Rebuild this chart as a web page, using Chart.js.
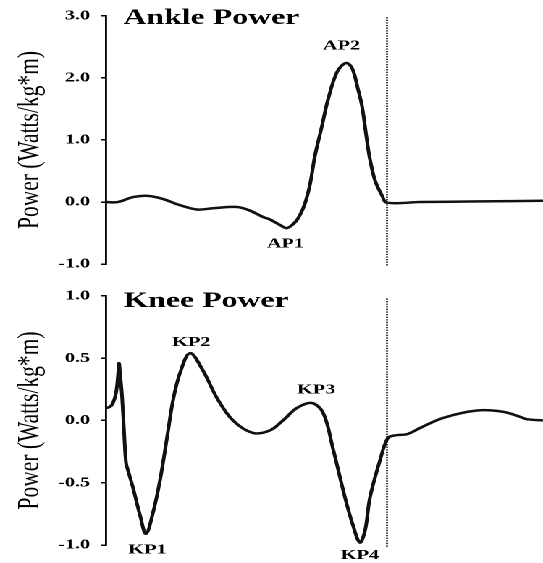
<!DOCTYPE html>
<html>
<head>
<meta charset="utf-8">
<script src="https://cdn.jsdelivr.net/npm/chart.js@4/dist/chart.umd.min.js"></script>
<style>
  html, body { margin: 0; background: #fff; }
  /* plots are laid out narrow, then widened to the page */
  #wrap { position: absolute; left: 0; top: 0; width: 375px; transform: scaleX(1.448); transform-origin: 0 0; }
  canvas { display: block; }
</style>
</head>
<body>
<div id="wrap">
  <canvas id="ankle" width="375" height="280" style="width:375px;height:280px"></canvas>
  <canvas id="knee" width="375" height="283" style="width:375px;height:283px"></canvas>
</div>
<script>
// % of gait cycle and joint power (W/kg*m)
const ankleCycle = [0, 2.7, 6.2, 9.6, 13.0, 16.9, 20.8, 24.5, 30.0, 33.0, 35.9, 37.5, 39.8, 41.4, 43.2, 44.3, 45.5,
  46.7, 47.8, 49.4, 50.8, 52.9, 54.9, 56.3, 57.7, 58.6, 59.7, 60.4, 61.6, 63.2, 64.3, 71.9, 85.6, 100]
const anklePower = [0, 0, 0.08, 0.1, 0.05, -0.05, -0.12, -0.1, -0.08, -0.14, -0.24, -0.28, -0.37, -0.42, -0.33, -0.22, -0.03,
  0.29, 0.74, 1.22, 1.65, 2.1, 2.24, 2.16, 1.81, 1.54, 1.0, 0.69, 0.34, 0.1, -0.01, 0.0, 0.01, 0.02]

const kneeCycle = [0, 0.92, 1.6, 2.29, 2.75, 2.97, 3.2, 3.66, 4.12, 4.58, 5.03, 6.18, 7.78, 9.15, 10.76, 12.36,
  13.96, 15.33, 16.93, 19.22, 22.2, 25.4, 29.06, 33.6, 37.5, 40.5, 43.7, 47.1, 49.7, 51.9, 54.7, 56.5, 58.1,
  59.3, 60.4, 62.7, 64.5, 66.1, 68.9, 71.9, 77.1, 84.9, 90.8, 94.7, 96.3, 100]
const kneePower = [0.10, 0.11, 0.14, 0.22, 0.36, 0.46, 0.38, 0.2, -0.08, -0.34, -0.40, -0.54, -0.76, -0.91, -0.74, -0.48,
  -0.14, 0.16, 0.38, 0.54, 0.40, 0.18, 0.0, -0.10, -0.08, 0.0, 0.10, 0.14, 0.06, -0.22, -0.62, -0.84, -0.98,
  -0.88, -0.62, -0.32, -0.14, -0.12, -0.11, -0.06, 0.02, 0.08, 0.07, 0.03, 0.01, 0.0]

const toeOff = 64.3
const ankleToeOffSpan = [2.98, -1.04]
const kneeToeOffSpan = [0.98, -1.02]

const ankleTicks = [3, 2, 1, 0, -1]
const kneeTicks = [1, 0.5, 0, -0.5, -1]

const ankleMarkers = ['AP1', 'AP2']
const ankleMarkerAt = [41.4, 54.9]
const kneeMarkers = ['KP1', 'KP2', 'KP3', 'KP4']
const kneeMarkerAt = [9.15, 19.22, 47.1, 58.1]

const SERIF = '"Liberation Serif", "Times New Roman", serif'
// label nudge from its peak, [dx, dy]
const markerOffset = {
  AP1: [-1, 16], AP2: [-3, -17],
  KP1: [1, 16], KP2: [1, -11], KP3: [3, -13], KP4: [0, 13]
}

function annotate (title, titleDrop, cycle, markers, markerAt) {
  return {
    id: 'annotate',
    afterDatasetsDraw (chart) {
      const { ctx, chartArea } = chart
      ctx.save()
      ctx.fillStyle = '#000'
      ctx.font = 'bold 22px ' + SERIF
      ctx.textAlign = 'left'
      ctx.textBaseline = 'alphabetic'
      ctx.fillText(title, chartArea.left + 12, chartArea.top + titleDrop)

      ctx.font = 'bold 14px ' + SERIF
      ctx.textAlign = 'center'
      ctx.textBaseline = 'middle'
      const pts = chart.getDatasetMeta(0).data
      markers.forEach((name, i) => {
        let idx = 0
        cycle.forEach((c, j) => {
          if (Math.abs(c - markerAt[i]) < Math.abs(cycle[idx] - markerAt[i])) idx = j
        })
        const [dx, dy] = markerOffset[name]
        ctx.fillText(name, pts[idx].x + dx, pts[idx].y + dy)
      })
      ctx.restore()
    }
  }
}

function powerChart (id, cfg) {
  return new Chart(document.getElementById(id), {
    type: 'line',
    data: {
      datasets: [{
        data: cfg.cycle.map((c, i) => ({ x: c, y: cfg.power[i] })),
        borderColor: '#111',
        borderWidth: 2.5,
        pointRadius: 0,
        tension: 0.35,
        clip: false
      }, {
        data: cfg.span.map(v => ({ x: toeOff, y: v })),
        borderColor: '#222',
        borderWidth: 1.4,
        borderDash: [1.3, 1.3],
        pointRadius: 0,
        tension: 0,
        clip: false
      }]
    },
    options: {
      responsive: false,
      animation: false,
      devicePixelRatio: 2,
      layout: { padding: { top: 15, bottom: cfg.padBottom, left: 0, right: 0 } },
      plugins: { legend: { display: false }, tooltip: { enabled: false } },
      scales: {
        x: { type: 'linear', min: 0, max: 100, display: false },
        y: {
          type: 'linear',
          min: cfg.ticks[cfg.ticks.length - 1],
          max: cfg.ticks[0],
          afterBuildTicks: s => { s.ticks = cfg.ticks.map(v => ({ value: v })) },
          afterFit: s => { s.width = 73.2 },
          grid: { drawOnChartArea: false, drawTicks: true, tickLength: 3.5, color: '#000', lineWidth: 1.5 },
          border: { display: true, color: '#000', width: 1.4 },
          ticks: {
            color: '#000',
            padding: 7.5,
            font: { family: SERIF, size: 14, weight: 'bold' },
            callback: v => v.toFixed(1)
          },
          title: {
            display: true,
            text: 'Power (Watts/kg*m)',
            color: '#000',
            font: { family: SERIF, size: 21.5, lineHeight: 1.2 },
            padding: { top: 8, bottom: 0 }
          }
        }
      }
    },
    plugins: [annotate(cfg.title, cfg.titleDrop, cfg.cycle, cfg.markers, cfg.markerAt)]
  })
}

powerChart('ankle', {
  cycle: ankleCycle, power: anklePower, span: ankleToeOffSpan, ticks: ankleTicks,
  title: 'Ankle Power', titleDrop: 8, markers: ankleMarkers, markerAt: ankleMarkerAt, padBottom: 15
})
powerChart('knee', {
  cycle: kneeCycle, power: kneePower, span: kneeToeOffSpan, ticks: kneeTicks,
  title: 'Knee Power', titleDrop: 11, markers: kneeMarkers, markerAt: kneeMarkerAt, padBottom: 18
})
</script>
</body>
</html>
